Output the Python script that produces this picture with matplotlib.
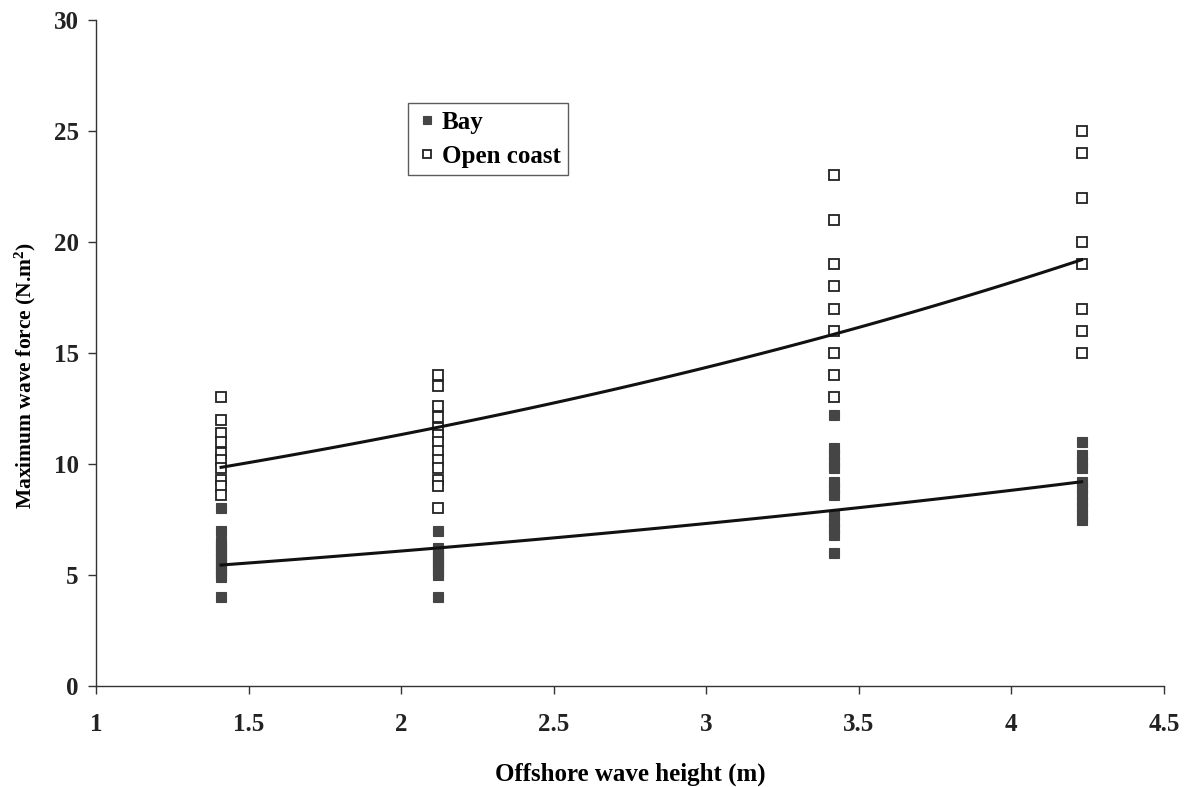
"""Maximum wave force against offshore wave height"""
import numpy as np
from matplotlib import pyplot as plt

X_SITES = [1.41, 2.12, 3.42, 4.23]

BAY = {
    1.41: [8.0, 7.0, 6.5, 6.3, 6.1, 5.9, 5.7, 5.5, 5.3, 5.1, 4.9, 4.0],
    2.12: [7.0, 6.2, 6.0, 5.8, 5.6, 5.4, 5.2, 5.0, 4.0],
    3.42: [12.2, 10.7, 10.4, 10.1, 9.8, 9.2, 8.9, 8.6, 7.7, 7.4, 7.1, 6.8, 6.0],
    4.23: [11.0, 10.4, 10.1, 9.8, 9.2, 8.9, 8.6, 8.3, 8.0, 7.7, 7.5],
}
OPEN_COAST = {
    1.41: [13.0, 12.0, 11.4, 11.0, 10.5, 10.2, 9.8, 9.3, 9.0, 8.6],
    2.12: [14.0, 13.5, 12.6, 12.1, 11.6, 11.3, 11.0, 10.6, 10.2, 9.8, 9.3, 9.0, 8.0],
    3.42: [23.0, 21.0, 19.0, 18.0, 17.0, 16.0, 15.0, 14.0, 13.0],
    4.23: [25.0, 24.0, 22.0, 20.0, 19.0, 17.0, 16.0, 15.0],
}

# exponential trendlines y = a*exp(b*(x - x0))
BAY_TREND = (5.45, 0.1857)
OPEN_TREND = (9.85, 0.2367)

plt.rcParams['font.family'] = ['Liberation Serif', 'DejaVu Serif']
plt.rcParams['font.weight'] = 'bold'
plt.rcParams['mathtext.default'] = 'regular'


def flatten(groups):
    xs, ys = [], []
    for x in X_SITES:
        xs += [x] * len(groups[x])
        ys += groups[x]
    return np.array(xs), np.array(ys)


fig = plt.figure(figsize=(11.92, 7.87), dpi=100)
ax = fig.add_axes([0.0805, 0.1283, 0.896, 0.8463])

bx, by = flatten(BAY)
ox, oy = flatten(OPEN_COAST)
ax.plot(bx, by, 's', ms=6.5, mfc='#454545', mec='#454545', mew=0.8, ls='none', label='Bay', zorder=3)
ax.plot(ox, oy, 's', ms=6.5, mfc='white', mec='#222222', mew=1.3, ls='none', label='Open coast', zorder=3)

xt = np.linspace(X_SITES[0], X_SITES[-1], 100)
for a, b in (BAY_TREND, OPEN_TREND):
    ax.plot(xt, a * np.exp(b * (xt - X_SITES[0])), color='#111111', lw=2.2, zorder=4)

ax.set_xlim(1, 4.5)
ax.set_ylim(0, 30)
ax.set_xticks([1, 1.5, 2, 2.5, 3, 3.5, 4, 4.5])
ax.set_xticklabels(['1', '1.5', '2', '2.5', '3', '3.5', '4', '4.5'])
ax.set_yticks(range(0, 31, 5))
ax.spines['top'].set_visible(False)
ax.spines['right'].set_visible(False)
for s in ('left', 'bottom'):
    ax.spines[s].set_color('#333333')
    ax.spines[s].set_linewidth(1.0)
ax.tick_params(direction='out', length=5.5, width=1, colors='#333333', labelsize=18, labelcolor='#222222')
ax.tick_params(axis='x', pad=14)
ax.tick_params(axis='y', pad=7)

ax.set_xlabel('Offshore wave height (m)', fontsize=18, fontweight='bold', labelpad=19)
ax.set_ylabel('Maximum wave force (N.m$^2$)', fontsize=15.5, fontweight='bold')
ax.yaxis.set_label_coords(-0.0543, 0.467)

leg = ax.legend(loc='upper left', bbox_to_anchor=(0.292, 0.875), fancybox=False,
                edgecolor='#333333', fontsize=18, handletextpad=0.15, handlelength=0.9,
                borderpad=0.3, labelspacing=0.45, markerscale=0.9, borderaxespad=0)
leg.get_frame().set_linewidth(1.0)

fig.savefig('out.png', dpi=100)
